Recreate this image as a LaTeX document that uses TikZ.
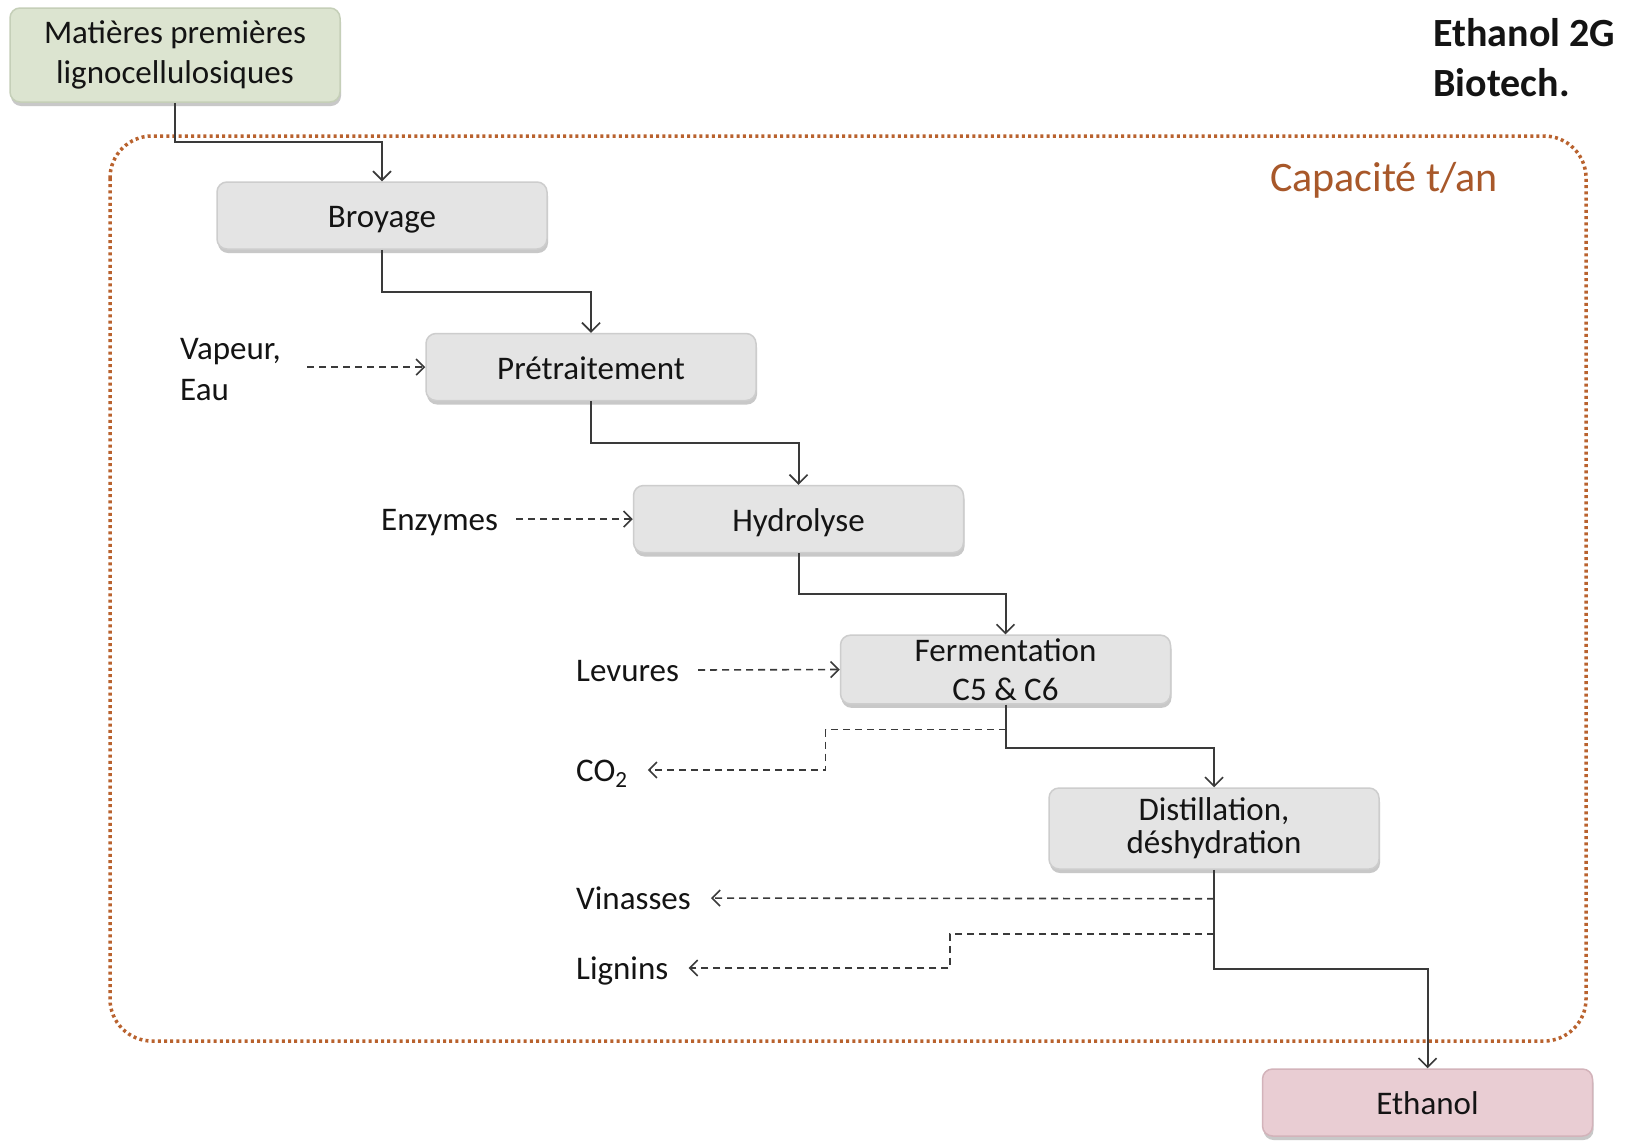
\documentclass[tikz,border=0pt]{standalone}
\usepackage{fontspec}
\setmainfont{Carlito}
\usetikzlibrary{arrows.meta,shadows}

\definecolor{boxfill}{HTML}{E4E4E4}
\definecolor{boxedge}{HTML}{CDCDCD}
\definecolor{rawfill}{HTML}{DCE4D0}
\definecolor{rawedge}{HTML}{C5CFB8}
\definecolor{outfill}{HTML}{E9CDD3}
\definecolor{outedge}{HTML}{D3B3BA}
\definecolor{linecol}{HTML}{3A3A3A}
\definecolor{framecol}{HTML}{B9622E}
\definecolor{capcol}{HTML}{A8582A}
\definecolor{txtcol}{HTML}{141414}

\tikzset{
  procbox/.style={draw=boxedge, fill=boxfill, line width=1.5pt, rounded corners=10pt,
    minimum width=330pt, minimum height=67pt, align=center, text=txtcol,
    font=\fontsize{33}{40}\selectfont,
    drop shadow={shadow xshift=1pt, shadow yshift=-4pt, opacity=0.3, fill=black!70}},
  oneline/.style={text height=27pt, text depth=3pt},
  sidelabel/.style={inner sep=0pt, anchor=west, text=txtcol, align=left,
    text height=27pt, text depth=4pt, font=\fontsize{33}{41}\selectfont},
  flow/.style={draw=linecol, line width=2pt,
    -{Straight Barb[length=9pt,width=18pt,line width=1.6pt]}},
  side/.style={draw=linecol, line width=1.6pt, dash pattern=on 7pt off 5pt,
    -{Straight Barb[length=8pt,width=16pt,line width=1.6pt]}},
  sideback/.style={side, shorten >=20pt},
}

\begin{document}
\begin{tikzpicture}[x=1pt,y=-1pt]
  \useasboundingbox[fill=white] (0,0) rectangle (1641,1144);

  % plant boundary
  \draw[framecol, line width=3.5pt, dash pattern=on 3pt off 3.2pt, rounded corners=42pt]
    (110,136) rectangle (1586,1041);
  \node[text=capcol, font=\fontsize{42}{48}\selectfont] (cap) at (1384,180) {Capacité t/an};

  % title
  \node[anchor=west, align=left, text=txtcol, font=\bfseries\fontsize{40}{50}\selectfont]
    (title) at (1430,58) {Ethanol 2G\\Biotech.};

  % process chain
  \node[procbox, fill=rawfill, draw=rawedge, minimum height=94pt] (m) at (175,55)
    {Matières premières\\lignocellulosiques};
  \node[procbox, oneline] (b) at (382,215.5) {Broyage};
  \node[procbox, oneline] (p) at (591,367) {Prétraitement};
  \node[procbox, oneline] (h) at (798.5,519) {Hydrolyse};
  \node[procbox, font=\fontsize{33}{39}\selectfont] (f) at (1005.5,669.5) {Fermentation\\C5 \& C6};
  \node[procbox, minimum height=81pt, font=\fontsize{33}{33}\selectfont] (d) at (1214,828.5)
    {Distillation,\\déshydration};
  \node[procbox, oneline, fill=outfill, draw=outedge] (e) at (1427.5,1102.5) {Ethanol};

  \draw[flow] (m.south) -- ++(0,39) -| (b.north);
  \draw[flow] (b.south) -- ++(0,42) -| (p.north);
  \draw[flow] (p.south) -- ++(0,42) -| (h.north);
  \draw[flow] (h.south) -- ++(0,41) -| (f.north);
  \draw[flow] (f.south) -- ++(0,43) -| (d.north);
  \draw[flow] (d.south) -- ++(0,99) -| (e.north);

  % inputs
  \node[inner sep=0pt, anchor=west, text=txtcol, align=left,
    font=\fontsize{33}{41}\selectfont] (vap) at (180,370) {Vapeur,\\Eau};
  \node[sidelabel] (enz) at (381,519) {Enzymes};
  \node[sidelabel] (lev) at (576,670) {Levures};
  \draw[side] ([xshift=26pt]vap.east |- p.west) -- (p.west);
  \draw[side] ([xshift=18pt]enz.east) -- (h.west);
  \draw[side] ([xshift=19pt]lev.east) -- (f.west);

  % by-products
  \node[sidelabel] (co2) at (576,770) {CO\textsubscript{2}};
  \node[sidelabel] (vin) at (576,898) {Vinasses};
  \node[sidelabel] (lig) at (576,968) {Lignins};
  \draw[sideback] ([yshift=-25pt]f.south) -- ++(-180,0) |- (co2.east);
  \draw[sideback] ([yshift=-29pt]d.south) -- (vin.east);
  \draw[sideback] ([yshift=-64pt]d.south) -- ++(-264,0) |- (lig.east);
\end{tikzpicture}
\end{document}
